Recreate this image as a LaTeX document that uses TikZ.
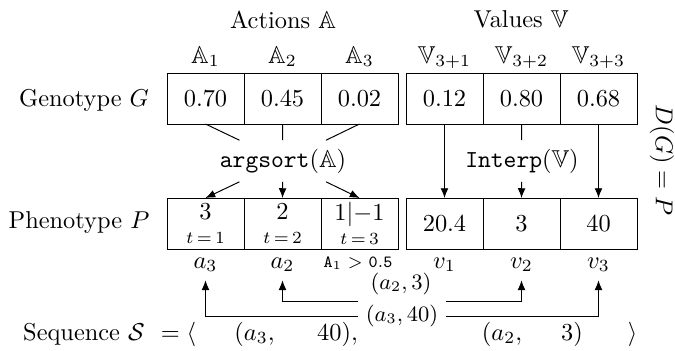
\documentclass[tikz,border=0pt]{standalone}
\usepackage{amsmath}
\usepackage{amssymb}
\usepackage{tikz}
\usetikzlibrary{
    arrows.meta
}

\begin{document}
\begin{tikzpicture}[
        x=0.41pt, y=-0.41pt,
        >={Latex[length=4pt,width=3.2pt]},
        cell/.style={
            draw,
            minimum width=31.57pt,
            minimum height=20.91pt,
            inner sep=0pt,
            outer sep=0pt,
            align=center
        },
        lbl/.style={
            anchor=base
        }
    ]
    \useasboundingbox (0,0) rectangle (675,350);

    \node[lbl] (actions) at (283,28) {Actions $\mathbb{A}$};
    \node[lbl] (values) at (521,27) {Values $\mathbb{V}$};

    \node[lbl] (h1) at (205.5,63) {$\mathbb{A}_1$};
    \node[lbl] (h2) at (282.5,63) {$\mathbb{A}_2$};
    \node[lbl] (h3) at (359.5,63) {$\mathbb{A}_3$};
    \node[lbl] (h4) at (444.5,63) {$\mathbb{V}_{3+1}$};
    \node[lbl] (h5) at (521.5,63) {$\mathbb{V}_{3+2}$};
    \node[lbl] (h6) at (598.5,63) {$\mathbb{V}_{3+3}$};

    \node[lbl] (geno) at (84,106) {Genotype $G$};
    \node[cell] (g1) at (205.5,98.5) {$0.70$};
    \node[cell] (g2) at (282.5,98.5) {$0.45$};
    \node[cell] (g3) at (359.5,98.5) {$0.02$};
    \node[cell] (g4) at (444.5,98.5) {$0.12$};
    \node[cell] (g5) at (521.5,98.5) {$0.80$};
    \node[cell] (g6) at (598.5,98.5) {$0.68$};

    \node (argsort) at (283,161) {$\texttt{argsort}(\mathbb{A})$};
    \node (interp) at (522,161) {$\texttt{Interp}(\mathbb{V})$};

    \node[lbl] (pheno) at (79,228) {Phenotype $P$};
    \node[cell] (p1) at (205.5,223.5) {$3$\\[-2pt]$\scriptstyle t\,=\,1$};
    \node[cell] (p2) at (282.5,223.5) {$2$\\[-2pt]$\scriptstyle t\,=\,2$};
    \node[cell] (p3) at (359.5,223.5) {$1|{-1}$\\[-2pt]$\scriptstyle t\,=\,3$};
    \node[cell] (p4) at (444.5,223.5) {$20.4$};
    \node[cell] (p5) at (521.5,223.5) {$3$};
    \node[cell] (p6) at (598.5,223.5) {$40$};

    \node[rotate=-90] (decode) at (662,160) {$D(G) = P$};

    \draw (g1.south) -- (argsort);
    \draw (g2.south) -- (argsort);
    \draw (g3.south) -- (argsort);
    \draw[->] (argsort) -- (p1.north);
    \draw[->] (argsort) -- (p2.north);
    \draw[->] (argsort) -- (p3.north);

    \draw (g5.south) -- (interp);
    \draw[->] (interp) -- (p5.north);
    \draw[->] (g4.south) -- (p4.north);
    \draw[->] (g6.south) -- (p6.north);

    \node[lbl] (o1) at (205.5,268) {$a_3$};
    \node[lbl] (o2) at (282.5,268) {$a_2$};
    \node[lbl] (o3) at (358,267) {\scriptsize $\mathtt{A}_1 > \mathtt{0.5}$};
    \node[lbl] (v1) at (444.5,268) {$v_1$};
    \node[lbl] (v2) at (521.5,268) {$v_2$};
    \node[lbl] (v3) at (598.5,268) {$v_3$};

    \draw[<->] (o2.south) -- (o2.south |- 0,301) -| (v2.south);
    \draw[<->] (o1.south) -- (o1.south |- 0,316) -| (v3.south);
    \node[font=\small] (pair2) at (401,284) {$(a_2, 3)$};
    \node[font=\small, fill=white] (pair1) at (402,316) {$(a_3, 40)$};

    \node[lbl] (seq) at (84,340) {Sequence $\mathcal{S}$};
    \node[lbl] (open) at (178.5,340) {$=\langle$};
    \node[lbl] (s1) at (254.5,340) {$(a_3,$};
    \node[lbl] (s2) at (337.5,340) {$40),$};
    \node[lbl] (s3) at (502,340) {$(a_2,$};
    \node[lbl] (s4) at (572,340) {$3)$};
    \node[lbl] (close) at (632.5,340) {$\rangle$};

\end{tikzpicture}
\end{document}
